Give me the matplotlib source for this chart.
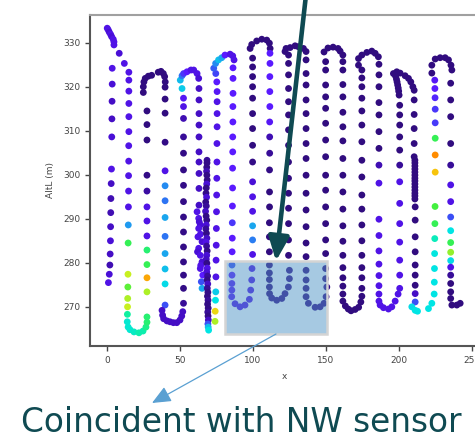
import matplotlib
matplotlib.use("Agg")
import matplotlib.pyplot as plt
import numpy as np
from matplotlib.colors import LinearSegmentedColormap
from matplotlib.patches import Rectangle

# Survey track: x (horizontal), altitude (m), colour value 0..1
# west leg
west_x = [3.6, 3.6, 3.5, 3.4, 3.3, 3.1, 2.9, 2.7, 2.6, 2.5, 2.4, 2.2, 2.0, 1.6, 1.0]
west_alt = [324.2, 320.6, 316.7, 312.7, 308.6, 301.3, 298.0, 294.6, 291.4, 288.2, 285.0,
            282.0, 279.5, 277.4, 275.5]
west_val = [0.15, 0.12, 0.10, 0.10, 0.12, 0.15, 0.10, 0.08, 0.08, 0.10, 0.12, 0.10, 0.08,
            0.12, 0.15]

# pass 1: descent, legs B..F
p1_x = [0.2, 0.9, 1.6, 2.5, 3.2, 4.3, 4.8, 4.8, 8.4, 11.9,
        15.0, 15.0, 15.0, 15.0, 15.0, 15.0, 14.9, 14.9, 14.8, 14.8, 14.7, 14.6, 14.5, 14.4,
        14.3, 14.2, 14.1, 14.0, 13.9,
        14.5, 15.8, 18.5, 21.9, 24.7, 26.7, 27.4,
        27.4, 27.4, 27.4, 27.4, 27.4, 27.4, 27.4, 27.4, 27.4, 27.4, 27.4, 27.4, 27.4,
        24.9, 24.9, 25.3, 26.2, 28.3, 30.6, 35.1, 37.0, 38.6, 39.5, 39.9,
        39.8, 39.8, 39.8, 39.8, 39.8, 39.8, 39.8, 39.8, 39.8, 39.8, 39.8, 39.8, 39.8,
        37.7, 38.1, 38.8, 41.1, 43.2, 45.5, 47.8, 50.0, 51.2, 51.9,
        52.4, 52.4, 52.4, 52.4, 52.4, 52.4, 52.4, 52.4, 52.4, 52.4, 52.4, 52.4, 52.4, 52.4,
        52.4,
        51.4, 50.2, 51.4, 52.5, 54.8, 57.5, 59.4, 61.7, 62.8,
        63.0, 63.0, 63.0, 63.0, 63.0, 63.0, 63.0, 63.0, 63.0, 63.0,
        61.7, 62.8, 63.2, 63.9, 62.8, 64.0, 62.3, 65.1, 62.8, 62.0, 63.9, 65.1, 64.2, 63.9,
        65.6, 64.6, 65.1]
p1_alt = [333.3, 332.9, 332.4, 331.9, 331.4, 330.8, 330.2, 329.5, 327.6, 325.3,
          323.3, 321.5, 319.0, 316.2, 313.2, 309.8, 306.6, 303.1, 299.8, 296.3, 292.7, 288.6,
          284.5, 277.4, 274.5, 271.9, 270.0, 268.3, 266.6,
          265.4, 264.8, 264.3, 264.1, 264.5, 265.4, 266.5,
          267.7, 273.4, 276.6, 279.6, 282.9, 286.1, 289.5, 292.7, 296.3, 299.9, 307.9, 311.4,
          314.5,
          318.7, 320.0, 321.1, 321.9, 322.4, 322.6, 323.3, 323.5, 323.0, 322.3, 321.1,
          319.9, 317.2, 314.0, 307.4, 300.9, 297.5, 294.1, 290.3, 286.0, 282.1, 278.6, 275.2,
          270.4,
          269.2, 268.1, 267.3, 266.8, 266.6, 266.4, 266.4, 267.0, 267.9, 268.9,
          270.8, 274.2, 277.2, 280.2, 283.6, 287.0, 290.4, 293.9, 297.6, 301.1, 304.9, 308.6,
          312.8, 315.5, 317.4,
          319.6, 321.5, 322.5, 323.0, 323.4, 323.8, 323.8, 323.0, 321.9,
          319.6, 317.0, 313.9, 311.3, 308.6, 305.2, 302.9, 300.3, 296.9, 293.1,
          291.6, 290.1, 289.3, 288.6, 287.8, 286.5, 285.9, 284.8, 283.3, 282.5, 281.7, 280.2,
          279.4, 278.7, 277.2, 275.7, 274.2]
p1_val = [0.15, 0.15, 0.12, 0.15, 0.12, 0.15, 0.15, 0.15, 0.12, 0.15,
          0.15, 0.15, 0.15, 0.15, 0.15, 0.15, 0.15, 0.15, 0.15, 0.15, 0.15, 0.40, 0.68, 0.80,
          0.72, 0.78, 0.80, 0.62, 0.55,
          0.55, 0.55, 0.57, 0.60, 0.60, 0.64, 0.66,
          0.66, 0.78, 0.95, 0.68, 0.66, 0.15, 0.15, 0.15, 0.06, 0.03, 0.02, 0.02, 0.02,
          0.02, 0.02, 0.02, 0.02, 0.02, 0.02, 0.02, 0.02, 0.02, 0.02, 0.02,
          0.02, 0.02, 0.02, 0.03, 0.15, 0.38, 0.35, 0.42, 0.35, 0.42, 0.46, 0.50, 0.30,
          0.10, 0.10, 0.10, 0.10, 0.10, 0.10, 0.10, 0.10, 0.10, 0.10,
          0.05, 0.03, 0.03, 0.03, 0.03, 0.03, 0.03, 0.03, 0.03, 0.03, 0.03, 0.05, 0.08, 0.15,
          0.18,
          0.48, 0.45, 0.35, 0.25, 0.20, 0.15, 0.15, 0.15, 0.12,
          0.10, 0.10, 0.10, 0.10, 0.10, 0.10, 0.10, 0.10, 0.10, 0.10,
          0.15, 0.15, 0.12, 0.12, 0.15, 0.15, 0.15, 0.12, 0.15, 0.12, 0.15, 0.12, 0.15, 0.15,
          0.20, 0.30, 0.42]

# pass 2: vertical dive G, then legs H..N
p2_x = [68.5, 68.5, 68.3, 68.2, 68.4, 68.6, 68.3, 68.0, 67.8, 68.2, 67.6, 68.0, 67.5, 67.9,
        68.3, 68.0, 67.7, 68.1, 68.4, 67.9, 68.2, 68.6, 68.3, 68.0, 68.4, 68.7, 68.3, 68.9,
        68.6, 69.0, 68.7, 69.1, 68.8, 69.2, 68.9, 69.3, 69.0, 69.2, 69.4, 69.1, 69.3, 69.6,
        74.0, 74.1, 74.3, 74.5, 74.6, 74.7, 74.8, 74.9, 75.0, 75.1, 75.2, 75.3, 75.3, 75.4,
        75.4, 75.4, 75.4, 75.2, 74.5,
        73.1, 74.4, 76.4, 78.6, 80.8, 84.3, 86.1, 87.0,
        86.3, 86.3, 86.3, 86.2, 86.2, 86.1, 86.1, 86.0, 86.0, 85.9, 85.8, 85.8, 85.7, 85.6,
        85.6, 85.5, 85.5, 85.4,
        87.7, 91.1, 94.5, 97.5, 98.4, 99.1, 99.3,
        99.7, 99.7, 99.7, 99.7, 99.7, 99.7, 99.7, 99.7, 99.7, 99.7, 99.7, 99.7, 99.7, 99.7,
        99.7,
        98.0, 99.1, 102.5, 106.0, 109.4, 111.2, 111.7,
        111.6, 111.6, 111.5, 111.5, 111.5, 111.4, 111.4, 111.4, 111.3, 111.3, 111.3, 111.2,
        111.2, 111.2, 111.2, 111.2, 111.2, 111.2, 111.3,
        112.8, 116.2, 119.7, 121.9, 124.2, 124.9, 124.9,
        124.3, 124.3, 124.3, 124.3, 124.3, 124.3, 124.3, 124.3, 124.3, 124.3, 124.3, 124.3,
        124.3, 124.3, 124.3,
        121.9, 122.6, 125.4, 128.8, 131.0, 134.5, 136.3,
        136.3, 136.3, 136.3, 136.3, 136.3, 136.3, 136.3, 136.3, 136.3, 136.3, 136.3, 136.3,
        136.3, 136.3, 136.3, 136.3, 136.3, 136.3,
        137.9, 142.5, 145.9, 148.6, 150.0, 150.5,
        149.7, 149.7, 149.7, 149.7, 149.7, 149.7, 149.7, 149.7, 149.7, 149.7, 149.7, 149.7,
        149.7, 149.7, 149.7, 149.7]
p2_alt = [303.3, 302.7, 301.7, 300.8, 299.9, 298.8, 297.9, 297.0, 295.8, 294.9, 293.8, 292.9,
          291.7, 290.6, 289.7, 288.6, 287.7, 286.7, 285.6, 284.7, 283.8, 282.7, 281.7, 280.8,
          279.9, 278.8, 277.9, 277.0, 276.1, 275.2, 274.2, 273.3, 272.4, 271.5, 270.6, 269.7,
          268.8, 267.9, 267.0, 266.1, 265.4, 264.7,
          266.7, 269.0, 271.5, 273.4, 276.8, 280.6, 284.0, 287.8, 291.6, 295.4, 299.2, 302.9,
          307.1, 310.9, 313.9, 316.6, 318.9, 321.1, 323.0,
          324.2, 325.3, 326.1, 326.6, 327.2, 327.4, 327.0, 326.1,
          324.3, 321.9, 318.5, 315.5, 312.0, 308.6, 305.2, 301.5, 297.0, 292.9, 289.1, 285.6,
          282.5, 279.5, 277.2, 275.3, 273.8, 272.3,
          270.7, 270.0, 270.4, 271.7, 273.8, 276.1, 278.7,
          281.9, 285.2, 288.4, 291.7, 295.0, 298.4, 302.9, 306.7, 310.5, 313.9, 317.4, 320.0,
          322.3, 324.5, 326.5,
          328.7, 329.6, 330.4, 330.8, 330.6, 329.9, 328.7,
          327.6, 325.3, 322.3, 318.9, 315.5, 312.0, 308.6, 304.9, 301.1, 296.1, 292.7, 289.1,
          285.9, 282.5, 279.5, 277.7, 276.2, 274.5, 273.0,
          272.0, 271.5, 271.9, 273.0, 274.5, 276.4, 278.3,
          281.7, 285.2, 288.9, 292.4, 295.8, 299.2, 302.9, 306.7, 310.2, 313.6, 316.6, 319.6,
          322.7, 325.3, 327.2,
          328.0, 328.7, 328.9, 329.3, 329.1, 328.7, 328.0,
          326.1, 323.0, 320.4, 317.0, 313.9, 310.5, 307.1, 303.7, 299.9, 295.8, 292.0, 288.2,
          284.5, 281.4, 278.3, 276.1, 274.2, 272.3,
          270.8, 269.9, 270.0, 270.8, 272.3, 274.5,
          276.4, 278.7, 282.1, 285.2, 288.9, 292.7, 296.5, 299.9, 304.1, 307.9, 311.7, 315.1,
          317.7, 320.4, 323.8, 325.7]
p2_val = [0.05, 0.03, 0.03, 0.08, 0.03, 0.03, 0.12, 0.03, 0.03, 0.12, 0.03, 0.05, 0.10, 0.03,
          0.03, 0.12, 0.05, 0.03, 0.10, 0.15, 0.05, 0.03, 0.12, 0.10, 0.03, 0.15, 0.12, 0.05,
          0.03, 0.10, 0.05, 0.03, 0.03, 0.05, 0.03, 0.03, 0.05, 0.03, 0.10, 0.30, 0.45, 0.52,
          0.78, 0.86, 0.52, 0.48, 0.15, 0.15, 0.15, 0.15, 0.15, 0.15, 0.15, 0.15, 0.15, 0.15,
          0.15, 0.15, 0.18, 0.20, 0.28,
          0.32, 0.38, 0.46, 0.42, 0.20, 0.15, 0.15, 0.15,
          0.20, 0.20, 0.20, 0.20, 0.20, 0.20, 0.20, 0.20, 0.20, 0.20, 0.25, 0.20, 0.20, 0.30,
          0.20, 0.18, 0.18, 0.18,
          0.15, 0.15, 0.15, 0.15, 0.15, 0.15, 0.15,
          0.15, 0.36, 0.42, 0.15, 0.15, 0.12, 0.03, 0.02, 0.02, 0.02, 0.02, 0.02, 0.02, 0.02,
          0.02,
          0.02, 0.02, 0.02, 0.02, 0.02, 0.02, 0.02,
          0.20, 0.20, 0.20, 0.20, 0.20, 0.18, 0.08, 0.05, 0.03, 0.02, 0.02, 0.02, 0.02, 0.02,
          0.02, 0.02, 0.02, 0.02, 0.02,
          0.03, 0.03, 0.03, 0.03, 0.03, 0.03, 0.03,
          0.02, 0.02, 0.02, 0.02, 0.02, 0.02, 0.02, 0.02, 0.02, 0.02, 0.02, 0.02, 0.02, 0.02,
          0.02,
          0.02, 0.02, 0.02, 0.02, 0.02, 0.02, 0.02,
          0.02, 0.02, 0.02, 0.02, 0.02, 0.02, 0.02, 0.02, 0.02, 0.02, 0.02, 0.02, 0.02, 0.02,
          0.02, 0.02, 0.02, 0.02,
          0.03, 0.03, 0.03, 0.03, 0.03, 0.03,
          0.02, 0.02, 0.02, 0.02, 0.02, 0.02, 0.02, 0.02, 0.02, 0.02, 0.02, 0.02, 0.02, 0.02,
          0.02, 0.02]

# pass 3: legs O..U
p3_x = [148.6, 151.3, 154.8, 158.2, 159.6, 161.5,
        161.5, 161.5, 161.5, 161.5, 161.5, 161.5, 161.5, 161.5, 161.5, 161.5, 161.5, 161.5,
        161.5, 161.5, 161.5, 161.5, 161.5, 161.5, 161.5,
        163.2, 165.2, 167.1, 169.9, 172.3, 173.8,
        174.5, 174.5, 174.5, 174.5, 174.5, 174.5, 174.5, 174.5, 174.5, 174.5, 174.5, 174.5,
        174.5, 174.5, 174.5, 174.5, 174.5, 174.5,
        172.2, 172.2, 174.5, 177.9, 181.3, 183.6, 185.8,
        186.2, 186.2, 186.2, 186.2, 186.2, 186.2, 186.2, 186.2, 186.2, 186.2, 186.2, 186.2,
        186.2, 186.2, 186.2, 186.2,
        186.2, 187.0, 189.3, 192.7, 195.0, 197.3, 199.3,
        200.4, 200.4, 200.4, 200.4, 200.4, 200.4, 200.4, 200.4, 200.4, 200.4, 200.4, 200.4,
        200.4, 200.0, 199.7, 199.4, 199.0, 198.6, 198.2, 197.6,
        196.1, 198.4, 200.7, 204.1, 206.4, 208.0, 209.4,
        210.3, 210.3, 210.3, 210.3, 210.3, 210.3, 210.8, 210.8, 210.8, 210.8, 210.8, 210.8,
        210.8, 210.8, 210.8, 210.8, 210.8, 210.8, 210.8, 210.8, 211.0, 211.0, 211.0, 211.0,
        211.0, 211.0, 211.0, 211.0, 211.0,
        208.7, 211.0, 212.6, 220.1, 222.4,
        224.0, 224.1, 224.2, 224.3, 224.4, 224.5, 224.6, 224.7, 224.7, 224.7, 224.7, 224.7,
        224.6, 224.5, 224.4,
        222.4, 222.4, 224.7, 228.1, 231.5, 233.8, 235.5, 236.1,
        235.3, 235.3, 235.3, 235.3, 235.3, 235.3, 235.3, 235.3, 235.3, 235.3, 235.3, 235.3,
        235.3, 235.3, 235.3, 235.3, 235.3,
        236.1, 239.5, 241.8]
p3_alt = [327.9, 328.8, 329.0, 328.7, 328.1, 327.2,
          325.7, 323.8, 320.5, 317.7, 314.2, 310.9, 307.7, 303.7, 299.9, 296.1, 292.2, 288.4,
          284.9, 281.7, 278.9, 276.6, 274.7, 272.9, 271.3,
          270.2, 269.5, 269.1, 269.4, 269.9, 271.1,
          272.4, 274.2, 276.6, 278.9, 281.7, 285.0, 288.6, 292.2, 295.4, 299.5, 303.3, 307.5,
          311.3, 314.5, 317.4, 320.0, 322.0, 323.8,
          324.9, 326.4, 327.2, 327.8, 328.1, 327.6, 326.8,
          325.1, 322.7, 320.0, 316.4, 313.6, 309.8, 306.0, 302.2, 298.1, 289.9, 286.2, 282.7,
          279.7, 277.1, 274.8, 272.9,
          271.3, 270.4, 269.8, 269.5, 270.0, 271.3, 272.9,
          274.2, 277.2, 280.6, 284.7, 288.9, 293.5, 298.4, 302.2, 305.6, 308.6, 311.3, 313.6,
          315.8, 318.1, 319.0, 319.7, 320.4, 321.1, 321.7, 322.4,
          323.0, 323.4, 323.1, 322.5, 321.9, 321.1, 320.0,
          319.2, 317.0, 313.7, 310.5, 307.1, 304.1, 303.3, 302.7, 302.0, 301.3, 300.6, 299.9,
          299.2, 298.6, 297.9, 297.2, 296.5, 295.8, 295.2, 294.5, 292.7, 289.7, 285.9, 282.5,
          279.5, 277.2, 274.9, 273.0, 271.1,
          270.0, 269.2, 269.0, 269.6, 270.8,
          272.9, 275.6, 278.7, 282.1, 285.5, 288.9, 292.8, 300.6, 304.5, 308.3, 311.8, 314.9,
          317.5, 319.6, 321.5,
          323.1, 324.9, 326.3, 326.6, 326.6, 326.1, 324.9, 323.8,
          320.8, 317.0, 313.2, 307.1, 302.2, 297.7, 293.9, 290.4, 287.3, 284.6, 282.4, 280.5,
          279.0, 277.2, 275.3, 273.4, 271.9,
          270.4, 270.4, 270.8]
p3_val = [0.02, 0.02, 0.02, 0.02, 0.02, 0.02,
          0.02, 0.02, 0.02, 0.02, 0.02, 0.02, 0.02, 0.02, 0.02, 0.02, 0.02, 0.02, 0.02, 0.02,
          0.02, 0.02, 0.02, 0.02, 0.02,
          0.02, 0.02, 0.02, 0.02, 0.02, 0.02,
          0.02, 0.02, 0.02, 0.02, 0.02, 0.02, 0.02, 0.02, 0.02, 0.02, 0.02, 0.02, 0.02, 0.02,
          0.02, 0.02, 0.02, 0.02,
          0.02, 0.02, 0.02, 0.02, 0.02, 0.02, 0.02,
          0.02, 0.02, 0.02, 0.02, 0.02, 0.02, 0.02, 0.08, 0.15, 0.15, 0.15, 0.15, 0.15, 0.15,
          0.15, 0.15,
          0.15, 0.15, 0.15, 0.15, 0.15, 0.15, 0.15,
          0.15, 0.15, 0.15, 0.15, 0.15, 0.15, 0.15, 0.05, 0.02, 0.02, 0.02, 0.02, 0.02, 0.02,
          0.02, 0.02, 0.02, 0.02, 0.02, 0.02,
          0.02, 0.02, 0.02, 0.02, 0.02, 0.02, 0.02,
          0.02, 0.02, 0.02, 0.02, 0.02, 0.02, 0.02, 0.02, 0.02, 0.02, 0.02, 0.02, 0.02, 0.02,
          0.02, 0.02, 0.02, 0.02, 0.02, 0.02, 0.02, 0.02, 0.02, 0.02, 0.02, 0.02, 0.02, 0.10,
          0.30,
          0.50, 0.52, 0.52, 0.52, 0.52,
          0.52, 0.52, 0.52, 0.53, 0.58, 0.68, 0.70, 0.90, 1.00, 0.68, 0.26, 0.25, 0.22, 0.20,
          0.18,
          0.02, 0.02, 0.02, 0.02, 0.02, 0.02, 0.02, 0.02,
          0.02, 0.02, 0.02, 0.02, 0.05, 0.15, 0.15, 0.30, 0.52, 0.68, 0.76, 0.50, 0.15, 0.05,
          0.02, 0.02, 0.02,
          0.02, 0.02, 0.02]

x_ticks = [0, 50, 100, 150, 200, 250]
alt_ticks = [270, 280, 290, 300, 310, 320, 330]

# highlighted patch (data units) and slide annotation
box_x = (80.8, 150.7)
box_alt = (263.8, 280.3)
caption = "Coincident with NW sensor"

TEAL = "#0f4a52"

cmap = LinearSegmentedColormap.from_list("track", [
    (0.00, "#2c0b6e"), (0.12, "#4a0fd8"), (0.20, "#5a1aff"), (0.30, "#3a50f5"),
    (0.40, "#1f9af0"), (0.52, "#00e5e5"), (0.62, "#10f0a0"), (0.70, "#40f040"),
    (0.80, "#c8f020"), (0.88, "#f5d010"), (1.00, "#ff8c00"),
])

x = np.concatenate([west_x, p1_x, p2_x, p3_x])
alt = np.concatenate([west_alt, p1_alt, p2_alt, p3_alt])
val = np.concatenate([west_val, p1_val, p2_val, p3_val])

W, H = 475, 441
fig = plt.figure(figsize=(W / 100, H / 100), dpi=100)
ax = fig.add_axes([90 / W, 95 / H, 388 / W, 331 / H])
ax.scatter(x, alt, c=val, cmap=cmap, vmin=0, vmax=1, s=24, linewidths=0, zorder=2)
ax.set_xlim(-11.6, 254)
ax.set_ylim(261.1, 336.3)
ax.set_xticks(x_ticks)
ax.set_yticks(alt_ticks)
ax.tick_params(labelsize=6.5, colors="#444444", length=3.5, width=1)
ax.set_xlabel("x", fontsize=6.5, color="#444444", labelpad=5)
ax.set_ylabel("AltL (m)", fontsize=6.5, color="#444444", labelpad=6)
for side in ("left", "bottom"):
    ax.spines[side].set_color("#555555")
    ax.spines[side].set_linewidth(1.5)
ax.spines["top"].set_color("#a0a0a0")
ax.spines["top"].set_linewidth(1.5)

# shaded box
ax.add_patch(Rectangle((box_x[0], box_alt[0]), box_x[1] - box_x[0], box_alt[1] - box_alt[0],
                       facecolor="#4f95c6", alpha=0.5, edgecolor="none", zorder=3))
ax.add_patch(Rectangle((box_x[0], box_alt[0]), box_x[1] - box_x[0], box_alt[1] - box_alt[0],
                       facecolor="none", edgecolor="#d4d4d4", lw=1.8, zorder=3))

# thick pointer from above, thin pointer to caption (figure pixels)
ax.annotate("", xy=(276, H - 261), xytext=(306, H + 5), xycoords="figure pixels",
            textcoords="figure pixels", annotation_clip=False,
            arrowprops=dict(arrowstyle="-|>,head_length=1.45,head_width=0.62",
                            mutation_scale=10, lw=3.3, color=TEAL,
                            shrinkA=0, shrinkB=0))
ax.annotate("", xy=(152, H - 403), xytext=(276, H - 334), xycoords="figure pixels",
            textcoords="figure pixels", annotation_clip=False,
            arrowprops=dict(arrowstyle="-|>,head_length=1.15,head_width=0.5",
                            mutation_scale=10, lw=0.9, color="#5aa0d2",
                            shrinkA=0, shrinkB=0))

fig.text(241 / W, 9 / H, caption, ha="center", va="baseline", fontsize=23.6,
         color=TEAL, family=["DejaVu Sans"])

fig.savefig("out.png", dpi=100)
